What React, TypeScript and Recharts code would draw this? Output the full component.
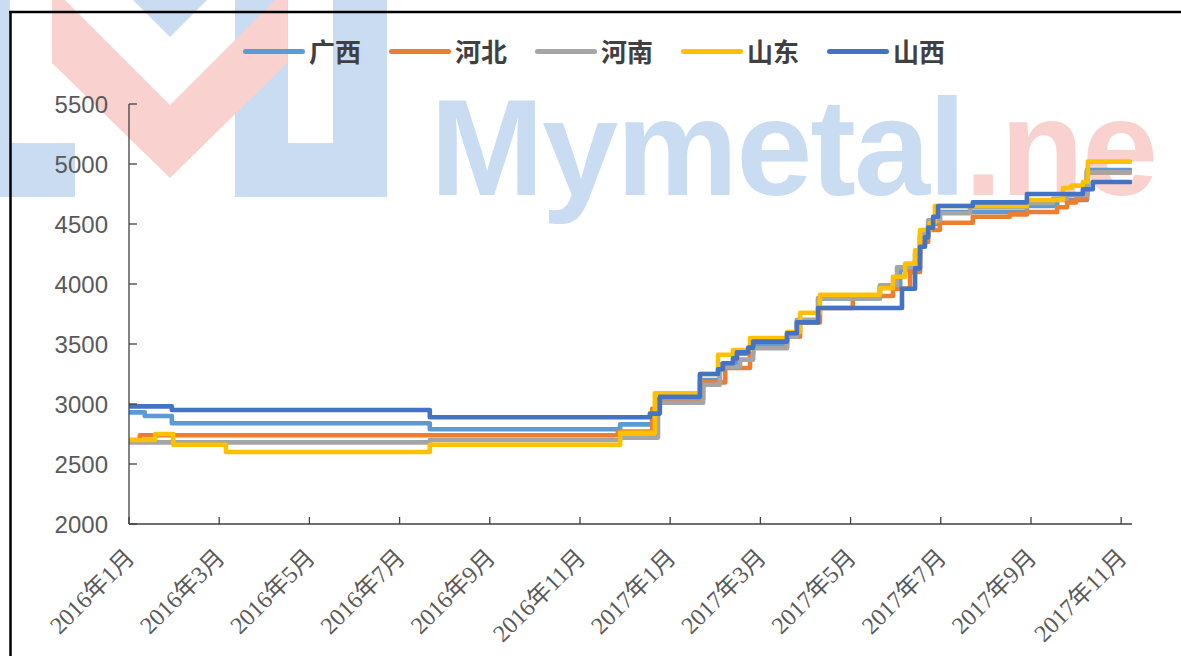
import React from "react";
import { LineChart, Line, XAxis, YAxis } from "recharts";

type Pt = [number, number];

// x = months since 2016年1月, y = price
const guangxi: Pt[] = [
  [0, 2930], [0.35, 2900], [0.95, 2840], [6.67, 2790], [10.89, 2830], [11.6, 2930],
  [11.73, 3040], [12.66, 3200], [13.1, 3330], [13.48, 3420], [13.84, 3500], [14.59, 3560],
  [14.81, 3700], [15.28, 3880], [16.65, 3980], [17.1, 4120], [17.43, 4200], [17.54, 4400],
  [17.72, 4500], [17.98, 4600], [19.91, 4650], [20.58, 4700], [21.24, 4950], [22.2, 4950],
];

const hebei: Pt[] = [
  [0, 2700], [0.24, 2740], [10.84, 2770], [11.6, 2960], [11.77, 3040], [12.73, 3180],
  [13.22, 3300], [13.77, 3470], [14.59, 3560], [14.88, 3680], [15.32, 3800], [16.05, 3900],
  [16.94, 3960], [17.32, 4100], [17.54, 4350], [17.72, 4450], [17.98, 4510], [18.71, 4560],
  [19.53, 4580], [19.91, 4600], [20.58, 4640], [20.8, 4680], [21.0, 4710], [21.24, 4930],
  [22.2, 4930],
];

const henan: Pt[] = [
  [0, 2680], [6.67, 2700], [10.89, 2720], [11.73, 3010], [12.73, 3160], [13.1, 3310],
  [13.55, 3370], [13.84, 3465], [14.59, 3560], [14.81, 3700], [15.28, 3880], [16.65, 3990],
  [17.03, 4140], [17.43, 4250], [17.54, 4420], [17.72, 4530], [17.98, 4590], [18.65, 4640],
  [19.91, 4675], [20.49, 4710], [20.8, 4740], [21.26, 4930], [22.2, 4930],
];

const shandong: Pt[] = [
  [0, 2700], [0.58, 2750], [0.98, 2660], [2.15, 2600], [6.67, 2660], [10.89, 2760],
  [11.66, 3090], [12.66, 3250], [13.06, 3410], [13.39, 3450], [13.77, 3550], [14.59, 3600],
  [14.88, 3760], [15.32, 3910], [16.65, 3965], [16.94, 4060], [17.21, 4170], [17.43, 4280],
  [17.54, 4450], [17.76, 4510], [17.87, 4650], [19.91, 4700], [20.71, 4800], [20.9, 4820],
  [21.15, 4850], [21.26, 5020], [22.2, 5020],
];

const shanxi: Pt[] = [
  [0, 2980], [0.95, 2950], [6.67, 2890], [11.55, 2920], [11.77, 3060], [12.66, 3250],
  [13.06, 3290], [13.17, 3340], [13.39, 3380], [13.48, 3430], [13.73, 3470], [13.84, 3520],
  [14.59, 3590], [14.81, 3680], [15.28, 3800], [17.14, 3960], [17.43, 4130], [17.54, 4310],
  [17.65, 4390], [17.72, 4470], [17.83, 4560], [17.94, 4650], [18.71, 4680], [19.91, 4750],
  [21.15, 4790], [21.37, 4850], [22.2, 4850],
];

const seriesNames = ["广西", "河北", "河南", "山东", "山西"];
const seriesColors = ["#5B9BD5", "#ED7D31", "#A5A5A5", "#FFC000", "#4472C4"];
const seriesData = [guangxi, hebei, henan, shandong, shanxi];

const monthTicks = [0, 2, 4, 6, 8, 10, 12, 14, 16, 18, 20, 22];
const monthLabels = [
  "2016年1月", "2016年3月", "2016年5月", "2016年7月", "2016年9月", "2016年11月",
  "2017年1月", "2017年3月", "2017年5月", "2017年7月", "2017年9月", "2017年11月",
];
const yTicks = [2000, 2500, 3000, 3500, 4000, 4500, 5000, 5500];

const AXIS = "#404040";
const TEXT = "#595959";

function XTick({ x, y, payload }: any) {
  const i = monthTicks.indexOf(payload.value);
  const tx = x + 7;
  const ty = y + 35;
  return (
    <g>
      <line x1={x} x2={x} y1={y} y2={y - 7} stroke={AXIS} strokeWidth={1.3} />
      <text
        x={tx}
        y={ty}
        transform={`rotate(-45, ${tx}, ${ty})`}
        textAnchor="end"
        fill={TEXT}
        fontSize={24}
        fontFamily="'Liberation Serif', 'Noto Sans CJK SC', serif"
      >
        {monthLabels[i]}
      </text>
    </g>
  );
}

function YTick({ x, y, payload }: any) {
  return (
    <g>
      <line x1={x} x2={x + 8} y1={y} y2={y} stroke={AXIS} strokeWidth={1.3} />
      <text
        x={x - 21}
        y={y}
        textAnchor="end"
        dominantBaseline="central"
        fill={TEXT}
        fontSize={24}
        fontFamily="'Liberation Sans', sans-serif"
      >
        {payload.value}
      </text>
    </g>
  );
}

function Watermark() {
  const blue = "#cadcf2";
  const pink = "#f9d2d0";
  return (
    <svg width={1181} height={656} style={{ position: "absolute", left: 0, top: 0 }}>
      <rect x={0} y={0} width={10} height={197} fill={blue} />
      <rect x={0} y={143} width={75} height={54} fill={blue} />
      <path d="M235,0 H387 V197 H235 Z M288,0 V143 H333 V0 Z" fill={blue} fillRule="evenodd" />
      <polygon points="52,0 65,0 170,105 275,0 287,0 287,63 170,178 52,63" fill={pink} />
      <polygon points="133,0 170,37 207,0" fill={blue} />
      <text
        x={430}
        y={195}
        fontSize={137}
        fontWeight={700}
        letterSpacing={-2}
        fontFamily="'Liberation Sans', Arial, sans-serif"
        fill={blue}
      >
        Mymetal<tspan fill={pink}>.ne</tspan>
      </text>
    </svg>
  );
}

function ChartLegend() {
  return (
    <div
      style={{
        position: "absolute",
        left: 243,
        top: 36,
        display: "flex",
        alignItems: "center",
        height: 30,
        fontFamily: "'Noto Sans CJK SC', sans-serif",
        fontWeight: 700,
        fontSize: 26,
        color: "#404040",
      }}
    >
      {seriesNames.map((n, i) => (
        <div key={n} style={{ display: "flex", alignItems: "center", marginRight: 28 }}>
          <div
            style={{
              width: 62,
              height: 5,
              borderRadius: 3,
              background: seriesColors[i],
              marginRight: 4,
            }}
          />
          <span style={{ lineHeight: "30px" }}>{n}</span>
        </div>
      ))}
    </div>
  );
}

export default function App() {
  return (
    <div
      style={{
        position: "absolute",
        left: 0,
        top: 0,
        width: 1181,
        height: 656,
        overflow: "hidden",
        background: "#fff",
      }}
    >
      <Watermark />
      <div style={{ position: "absolute", left: 0, top: 0 }}>
        <LineChart width={1181} height={656} margin={{ top: 104, right: 49, bottom: 32, left: 0 }}>
          <XAxis
            dataKey="m"
            type="number"
            domain={[0, 22.24]}
            ticks={monthTicks}
            interval={0}
            allowDataOverflow
            height={100}
            tickSize={0}
            tickMargin={0}
            tickLine={false}
            axisLine={{ stroke: AXIS, strokeWidth: 1.3 }}
            tick={<XTick />}
          />
          <YAxis
            type="number"
            domain={[2000, 5500]}
            ticks={yTicks}
            interval={0}
            width={129}
            tickSize={0}
            tickMargin={0}
            tickLine={false}
            axisLine={{ stroke: AXIS, strokeWidth: 1.3 }}
            tick={<YTick />}
          />
          {seriesData.map((s, i) => (
            <Line
              key={seriesNames[i]}
              name={seriesNames[i]}
              data={s.map(([m, v]) => ({ m, v }))}
              dataKey="v"
              type="stepAfter"
              stroke={seriesColors[i]}
              strokeWidth={4.6}
              strokeLinejoin="round"
              strokeLinecap="round"
              dot={false}
              activeDot={false}
              isAnimationActive={false}
            />
          ))}
        </LineChart>
      </div>
      <ChartLegend />
      <svg width={1181} height={656} style={{ position: "absolute", left: 0, top: 0, pointerEvents: "none" }}>
        <line x1={9} x2={1181} y1={12} y2={12} stroke="#000" strokeWidth={2.5} />
        <line x1={10.5} x2={10.5} y1={11} y2={656} stroke="#000" strokeWidth={2.5} />
      </svg>
    </div>
  );
}
